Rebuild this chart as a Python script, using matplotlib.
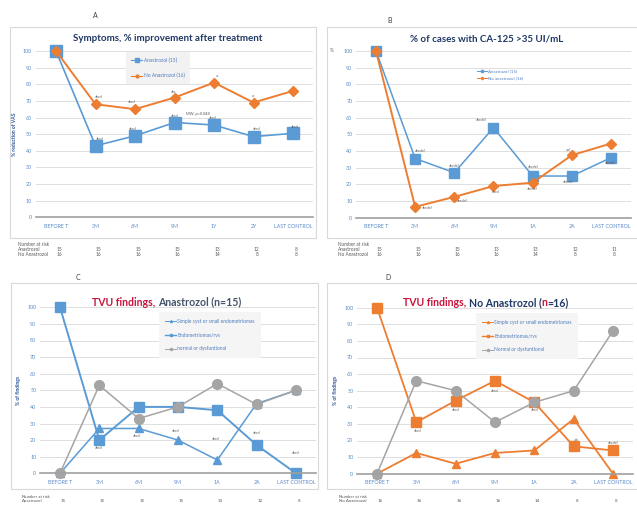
import matplotlib
matplotlib.use('Agg')
import matplotlib.pyplot as plt
from matplotlib.lines import Line2D
from matplotlib.patches import Rectangle
from matplotlib import transforms

plt.rcParams['font.family'] = ['Lato', 'DejaVu Sans']

W, H = 637, 505
BLUE = '#5B9BD5'
ORANGE = '#ED7D31'
GREY = '#A5A5A5'
TICK = '#5A8AC6'
NAVY = '#1F3864'
RED = '#C8143C'
TXT = '#595959'

# ---- data ----
cats_a = ['BEFORE T', '3M', '6M', '9M', '1Y', '2Y', 'LAST CONTROL']
cats_b = ['BEFORE T', '3M', '6M', '9M', '1A', '2A', 'LAST CONTROL']

sym_ana = [100, 43, 49, 57, 55.5, 48.5, 50.5]
sym_no = [100, 68, 65, 72, 81, 69, 76]
sym_ana_lab = [None, 'abcd', 'abcd', 'abcd', 'abcd', 'abcd', 'abcd']
sym_no_lab = [None, 'abcd', 'abcd', 'abc', 'ac', 'ac', None]

ca_ana = [100, 35.5, 27, 54, 25, 25, 36]
ca_no = [100, 6.5, 12.5, 19, 21, 37.5, 44.5]
ca_ana_lab = [None, 'abcdef', 'abcdef', 'abcdef', 'abcdef', 'abcdef', 'abcdef']
ca_no_lab = [None, 'abcdef', 'abcdef', 'abcd', 'abcdef', 'a,d', None]

tvu_ana_cyst = [0, 27, 27, 20, 8, 42, 50]
tvu_ana_endo = [100, 20, 40, 40, 38, 17, 0]
tvu_ana_norm = [0, 53, 33, 40, 54, 41.5, 50]
tvu_ana_lab = [None, 'abcd', 'abcd', 'abcd', 'abcd', 'abcd', 'abcd']

tvu_no_cyst = [0, 12.5, 6, 12.5, 14, 33, 0]
tvu_no_endo = [100, 31, 44, 56, 43, 16.5, 14]
tvu_no_norm = [0, 56, 50, 31, 43, 50, 86]
tvu_no_lab = [None, 'abcd', 'abcd', 'abcd', 'abcd', 'a,b', 'abcdef']

risk_a_ana = [15, 15, 15, 15, 13, 12, 8]
risk_a_no = [16, 16, 16, 16, 14, 8, 8]
risk_b_ana = [15, 15, 15, 13, 13, 12, 11]
risk_b_no = [16, 16, 16, 16, 14, 8, 8]

# label offsets (pixels)
off_a_ana = [None, (4, 7), (-2, 7), (0, 7), (-1, 7), (3, 8), (2, 6)]
off_a_no = [None, (3, 7), (-3, 7), (-1, 6), (4, 7), (0, 7), None]
off_b_ana = [None, (5, 8), (0, 7), (-12, 8), (1, 9), (-4, -6), (-1, -5)]
off_b_no = [None, (12, -1), (8, -4), (2, -6), (0, -6), (-4, 6), None]
off_c = [None, (-1, -8), (-2, -8), (-2, 9), (-2, 21), (0, 12), (0, 20)]
off_d = [None, (1, -9), (0, -9), (0, -10), (0, -8), (2, 7), (0, 7)]


def fx(px):
    return px / W


def fy(py):
    return 1 - py / H


fig = plt.figure(figsize=(W / 100, H / 100), dpi=100)
fig.patch.set_facecolor('white')

# chart boxes
for x0, y0, x1, y1 in [(10, 27, 316, 238), (327, 27, 640, 238),
                       (11, 283, 318, 489), (327, 283, 640, 489)]:
    fig.patches.append(Rectangle((fx(x0), fy(y1)), (x1 - x0) / W, (y1 - y0) / H,
                                 transform=fig.transFigure, fill=False,
                                 edgecolor='#D9D9D9', lw=0.8))


def make_ax(first, last, ytop, ybot, cats):
    sp = (last - first) / 6
    ax = fig.add_axes([fx(first - sp / 2), fy(ybot), 7 * sp / W, (ybot - ytop) / H])
    ax.set_xlim(-0.5, 6.5)
    ax.set_ylim(0, 100)
    ax.set_yticks(range(0, 101, 10))
    ax.set_xticks(range(7))
    ax.set_xticklabels(cats)
    ax.tick_params(length=0, labelsize=3.8, labelcolor=TICK)
    ax.tick_params(axis='x', pad=4.5)
    ax.tick_params(axis='y', pad=3)
    ax.grid(axis='y', color='#D9D9D9', lw=0.6)
    ax.set_axisbelow(True)
    for s in ['top', 'left', 'right']:
        ax.spines[s].set_visible(False)
    ax.spines['bottom'].set_color('#A0A0A0')
    ax.spines['bottom'].set_linewidth(1.2)
    ax.patch.set_alpha(0)
    return ax


def series(ax, vals, color, marker, ms, lw=1.1):
    ax.plot(range(7), vals, color=color, lw=lw, marker=marker, ms=ms,
            mfc=color, mec=color, clip_on=False)


def labels(ax, vals, labs, offs):
    for i, (v, t, o) in enumerate(zip(vals, labs, offs)):
        if t is None:
            continue
        ax.annotate(t, (i, v), xytext=o, textcoords='offset pixels',
                    fontsize=2.6, color=TXT, ha='center', va='center')


def risk_table(ax, ylab, rows, step=5.3, size=3.4):
    tr = transforms.blended_transform_factory(ax.transData, fig.transFigure)
    x_lab = ax.get_position().x0 * W - 18
    fig.text(fx(x_lab), fy(ylab), 'Number at risk', fontsize=size, color=TXT, va='center')
    for k, (name, vals) in enumerate(rows):
        yy = fy(ylab + step * (k + 1))
        fig.text(fx(x_lab), yy, name, fontsize=size, color=TXT, va='center')
        for i, v in enumerate(vals):
            ax.text(i + 0.08, yy, str(v), transform=tr, fontsize=size, color=TXT,
                    ha='center', va='center')


def color_title(cx, cy, parts, size):
    r = fig.canvas.get_renderer()
    texts = [fig.text(0, fy(cy), s, color=c, fontsize=size, weight='bold',
                      va='center', ha='left') for s, c in parts]
    widths = [t.get_window_extent(r).width for t in texts]
    x = cx - sum(widths) / 2
    for t, w in zip(texts, widths):
        t.set_x(fx(x))
        x += w


# ---- A ----
axA = make_ax(56, 293, 51, 217.3, cats_a)
series(axA, sym_ana, BLUE, 's', 8, lw=1.2)
series(axA, sym_no, ORANGE, 'D', 5.2, lw=1.4)
labels(axA, sym_ana, sym_ana_lab, off_a_ana)
labels(axA, sym_no, sym_no_lab, off_a_no)
axA.text(3.6, 62, 'MW, p=0.048', fontsize=2.8, color=TXT, ha='center', va='center')
axA.set_ylabel('% reduction of VAS', fontsize=3.6, color='#2F5597', weight='bold', labelpad=4)
h = [Line2D([], [], color=BLUE, marker='s', ms=2.2, lw=0.8),
     Line2D([], [], color=ORANGE, marker='D', ms=1.8, lw=0.8)]
leg = axA.legend(h, ['Anastrozol (15)', 'No Anastrozol (16)'], loc='center',
                 bbox_to_anchor=(fx(158), fy(68)), bbox_transform=fig.transFigure,
                 fontsize=3.5, facecolor='#F2F2F2', edgecolor='none', fancybox=False,
                 labelspacing=2.0, handlelength=2.2, handletextpad=0.3, borderpad=1.2,
                 labelcolor='#4F7CC0', framealpha=1)
fig.text(fx(168), fy(38.5), 'Symptoms, % improvement after treatment', fontsize=7,
         weight='bold', color=NAVY, ha='center', va='center')
fig.text(fx(95), fy(16), 'A', fontsize=5, color='#404040', ha='center', va='center')
risk_table(axA, 244, [('Anastrozol', risk_a_ana), ('No Anastrozol', risk_a_no)])

# ---- B ----
axB = make_ax(376, 611, 51, 217.7, cats_b)
series(axB, ca_ana, BLUE, 's', 7.5, lw=1.1)
series(axB, ca_no, ORANGE, 'D', 4.8, lw=1.4)
labels(axB, ca_ana, ca_ana_lab, off_b_ana)
labels(axB, ca_no, ca_no_lab, off_b_no)
fig.text(fx(332), fy(51), '%', fontsize=3.4, color=TXT, ha='center', va='center')
h = [Line2D([], [], color=BLUE, marker='s', ms=1.6, lw=0.7),
     Line2D([], [], color=ORANGE, marker='D', ms=1.3, lw=0.7)]
axB.legend(h, ['Anastrozol (15)', 'No anastrozol (16)'], loc='center',
           bbox_to_anchor=(fx(500), fy(75)), bbox_transform=fig.transFigure,
           fontsize=3.2, frameon=False, labelspacing=0.7, handlelength=2.2,
           handletextpad=0.3, labelcolor='#4F7CC0')
fig.text(fx(487), fy(38.5), '% of cases with CA-125 >35 UI/mL', fontsize=7,
         weight='bold', color=NAVY, ha='center', va='center')
fig.text(fx(390), fy(20.5), 'B', fontsize=5, color='#404040', ha='center', va='center')
risk_table(axB, 244, [('Anastrozol', risk_b_ana), ('No Anastrozol', risk_b_no)])

# ---- C ----
axC = make_ax(60, 296, 307.3, 473.3, cats_b)
series(axC, tvu_ana_cyst, BLUE, '^', 6)
series(axC, tvu_ana_endo, BLUE, 's', 6.5, lw=1.4)
series(axC, tvu_ana_norm, GREY, 'o', 7)
labels(axC, [tvu_ana_endo[0], tvu_ana_endo[1], tvu_ana_cyst[2], tvu_ana_cyst[3],
             tvu_ana_cyst[4], tvu_ana_endo[5], tvu_ana_endo[6]], tvu_ana_lab, off_c)
axC.set_ylabel('% of findings', fontsize=3.6, color='#2F5597', weight='bold', labelpad=4)
h = [Line2D([], [], color=BLUE, marker='^', ms=1.5, lw=0.7),
     Line2D([], [], color=BLUE, marker='s', ms=1.8, lw=1.0),
     Line2D([], [], color=GREY, marker='o', ms=1.5, lw=0.7)]
axC.legend(h, ['Simple cyst or small endometriomas', 'Endometriomas/rvs',
               'normal or dysfuntional'], loc='center',
           bbox_to_anchor=(fx(210), fy(335)), bbox_transform=fig.transFigure,
           fontsize=3.5, facecolor='#F5F5F5', edgecolor='none', fancybox=False,
           labelspacing=1.8, handlelength=2.2, handletextpad=0.3, borderpad=1.3,
           labelcolor='#4F7CC0', framealpha=1)
color_title(167, 302, [('TVU findings, ', RED), ('Anastrozol (n=15)', '#44546A')], 7.6)
fig.text(fx(78), fy(278), 'C', fontsize=5, color='#404040', ha='center', va='center')
risk_table(axC, 496.5, [('Anastrozol', risk_a_ana)], step=5.0, size=3.2)

# ---- D ----
axD = make_ax(377, 613, 307.7, 473.7, cats_b)
series(axD, tvu_no_cyst, ORANGE, '^', 6, lw=1.3)
series(axD, tvu_no_endo, ORANGE, 's', 6.5, lw=1.3)
series(axD, tvu_no_norm, GREY, 'o', 7)
labels(axD, tvu_no_endo, tvu_no_lab, off_d)
axD.set_ylabel('% of findings', fontsize=3.6, color='#2F5597', weight='bold', labelpad=4)
h = [Line2D([], [], color=ORANGE, marker='^', ms=1.5, lw=0.7),
     Line2D([], [], color=ORANGE, marker='s', ms=1.8, lw=1.0),
     Line2D([], [], color=GREY, marker='o', ms=1.5, lw=0.7)]
axD.legend(h, ['Simple cyst or small endometriomas', 'Endometriomas/rvs',
               'Normal or dysfuntional'], loc='center',
           bbox_to_anchor=(fx(527), fy(336)), bbox_transform=fig.transFigure,
           fontsize=3.5, facecolor='#F5F5F5', edgecolor='none', fancybox=False,
           labelspacing=1.8, handlelength=2.2, handletextpad=0.3, borderpad=1.3,
           labelcolor='#4F7CC0', framealpha=1)
color_title(486, 303, [('TVU findings, ', RED), ('No Anastrozol (', NAVY),
                       ('n', RED), ('=16)', NAVY)], 7.6)
fig.text(fx(388), fy(277), 'D', fontsize=5, color='#404040', ha='center', va='center')
risk_table(axD, 496.5, [('No Anastrozol', risk_b_no)], step=5.0, size=3.2)

fig.savefig('out.png', dpi=100)
